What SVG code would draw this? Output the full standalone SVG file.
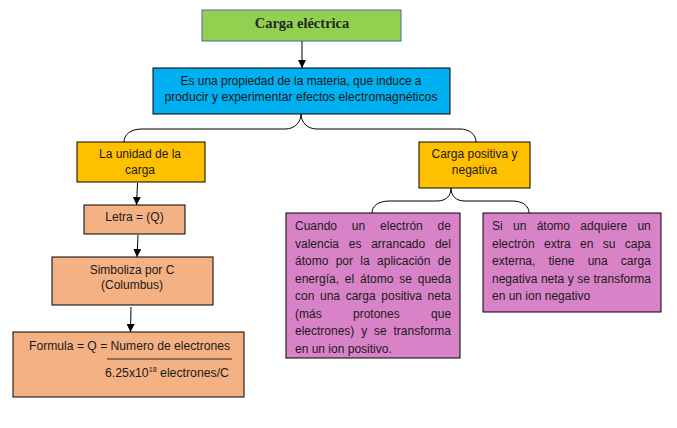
<svg xmlns="http://www.w3.org/2000/svg" width="677" height="428" viewBox="0 0 677 428">
<style>
.t{font-family:"Liberation Sans",Arial,sans-serif;font-size:12px;fill:#1a1a1a}
.c{text-anchor:middle}
.e{text-anchor:end}
.box{stroke:#000;stroke-width:1}
.ln{fill:none;stroke:#000;stroke-width:1}
</style>
<defs>
<marker id="ah" viewBox="0 0 10 10" refX="10" refY="5" markerWidth="8" markerHeight="8" markerUnits="userSpaceOnUse" orient="auto"><path d="M0,0 L10,5 L0,10 z" fill="#000"/></marker>
</defs>
<rect width="677" height="428" fill="#fff"/>
<g id="connectors">
<line class="ln" x1="302" y1="41" x2="302" y2="68" marker-end="url(#ah)"/>
<path class="ln" d="M124,142 C124,135 130,129 142,129 L285,129 C295,129 301,122 301,114 C301,122 307,129 317,129 L460,129 C470,129 476,135 476,142"/>
<line class="ln" x1="137.5" y1="183" x2="136.5" y2="205" marker-end="url(#ah)"/>
<line class="ln" x1="138" y1="235" x2="137" y2="257" marker-end="url(#ah)"/>
<line class="ln" x1="131" y1="307" x2="130.5" y2="332" marker-end="url(#ah)"/>
<path class="ln" d="M372,213 C372,206 378,201 390,201 L437,201 C446,201 451,196 451,188 C451,196 456,201 465,201 L512,201 C523,201 529,206 529,213"/>
</g>
<g id="title">
<rect x="202" y="10" width="199" height="31" fill="#92D050" stroke="#41719C" stroke-width="1"/>
<text x="302" y="28" text-anchor="middle" style="font-family:'Liberation Serif','Times New Roman',serif;font-size:14.5px;font-weight:bold;fill:#262626">Carga eléctrica</text>
</g>
<g id="definicion">
<rect class="box" x="153" y="68" width="297" height="46" fill="#00B0F0"/>
<text class="t c" x="301" y="85" textLength="241" lengthAdjust="spacingAndGlyphs">Es una propiedad de la materia, que induce a</text>
<text class="t c" x="301" y="101" textLength="273" lengthAdjust="spacingAndGlyphs">producir y experimentar efectos electromagnéticos</text>
</g>
<g id="unidad">
<rect class="box" x="77" y="142" width="128" height="40" fill="#FFC000"/>
<text class="t c" x="140" y="158">La unidad de la</text>
<text class="t c" x="140" y="174">carga</text>
</g>
<g id="letra">
<rect class="box" x="84" y="205" width="101" height="29" fill="#F4B183"/>
<text class="t c" x="134.5" y="221">Letra = (Q)</text>
</g>
<g id="simboliza">
<rect class="box" x="52" y="257" width="161" height="48" fill="#F4B183"/>
<text class="t c" x="132" y="274">Simboliza por C</text>
<text class="t c" x="132" y="289">(Columbus)</text>
</g>
<g id="formula">
<rect class="box" x="13" y="332" width="231" height="65" fill="#F4B183"/>
<text class="t" x="29" y="350" textLength="201" lengthAdjust="spacingAndGlyphs">Formula = Q = Numero de electrones</text>
<line x1="107" y1="359" x2="232" y2="359" stroke="#3b2a1a" stroke-width="1"/>
<text class="t" x="105" y="377" textLength="124" lengthAdjust="spacingAndGlyphs">6.25x10<tspan dy="-5" style="font-size:7px">18</tspan><tspan dy="5"> electrones/C</tspan></text>
</g>
<g id="carga">
<rect class="box" x="419" y="142" width="111" height="46" fill="#FFC000"/>
<text class="t c" x="474.5" y="158">Carga positiva y</text>
<text class="t c" x="474.5" y="174">negativa</text>
</g>
<g id="positiva">
<rect class="box" x="286" y="213" width="174" height="145" fill="#D883C8"/>
<text class="t" x="295" y="230" word-spacing="11.5">Cuando un electrón de</text>
<text class="t" x="295" y="247.5" word-spacing="6.4">valencia es arrancado del</text>
<text class="t" x="295" y="265" word-spacing="4">átomo por la aplicación de</text>
<text class="t" x="295" y="282.5" word-spacing="2.5">energía, el átomo se queda</text>
<text class="t" x="295" y="300" word-spacing="2.3">con una carga positiva neta</text>
<text class="t" x="295" y="317.5" word-spacing="28">(más protones que</text>
<text class="t" x="295" y="335" word-spacing="3.5">electrones) y se transforma</text>
<text class="t" x="295" y="352.5">en un ion positivo.</text>
</g>
<g id="negativa">
<rect class="box" x="483" y="213" width="178" height="99" fill="#D883C8"/>
<text class="t" x="492" y="230" word-spacing="7">Si un átomo adquiere un</text>
<text class="t" x="492" y="247.5" word-spacing="6">electrón extra en su capa</text>
<text class="t" x="492" y="265" word-spacing="9.8">externa, tiene una carga</text>
<text class="t" x="492" y="282.5" word-spacing="0.2">negativa neta y se transforma</text>
<text class="t" x="492" y="300">en un ion negativo</text>
</g>
</svg>
